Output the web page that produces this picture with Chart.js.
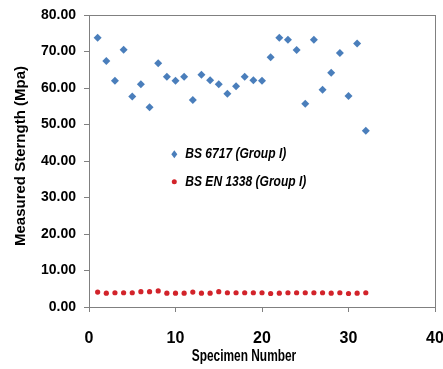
<!DOCTYPE html>
<html>
<head>
<meta charset="utf-8">
<script src="https://cdn.jsdelivr.net/npm/chart.js@4"></script>
<style>
  html, body { margin: 0; padding: 0; background: #fff; }
  #wrap { width: 443px; height: 369px; }
</style>
</head>
<body>
<div id="wrap"><canvas id="chart" width="443" height="369"></canvas></div>
<script>
// specimen numbers 1..32
var specimens = [1,2,3,4,5,6,7,8,9,10,11,12,13,14,15,16,17,18,19,20,21,22,23,24,25,26,27,28,29,30,31,32];
var bs6717 = [73.8,67.4,62.0,70.5,57.7,61.0,54.7,66.8,63.1,62.0,63.1,56.7,63.6,62.1,61.0,58.4,
              60.5,63.1,62.1,62.0,68.4,73.8,73.2,70.4,55.7,73.2,59.5,64.2,69.6,57.8,72.2,48.3];
var bsen1338 = [4.1,3.8,3.9,3.9,3.9,4.2,4.2,4.4,3.8,3.8,3.8,4.1,3.8,3.8,4.2,3.9,
                3.9,3.9,3.9,3.9,3.7,3.8,3.9,3.9,3.9,3.9,3.9,3.8,3.9,3.7,3.8,3.9];
var seriesNames = ['BS 6717 (Group I)', 'BS EN 1338 (Group I)'];
var xTitle = 'Specimen Number';
var yTitle = 'Measured Sterngth (Mpa)';

var blue = '#4a7ebb';
var red = '#d2232a';
var sans = '"Liberation Sans", Arial, sans-serif';

function pts(vals) {
    return vals.map(function (v, i) { return { x: specimens[i], y: v }; });
}

// condensed text: the original uses a narrow face, so squeeze horizontally
function narrowText(ctx, text, x, y, sx) {
    ctx.save();
    ctx.translate(x, y);
    ctx.scale(sx, 1);
    ctx.fillText(text, 0, 0);
    ctx.restore();
}

var extras = {
    id: 'extras',
    afterDraw: function (chart) {
        var ctx = chart.ctx;
        var a = chart.chartArea;
        ctx.save();
        // plot frame
        ctx.strokeStyle = '#808080';
        ctx.lineWidth = 1;
        ctx.strokeRect(a.left + 0.5, a.top + 0.5, a.right - a.left, a.bottom - a.top);

        // legend inside the plot
        var lx = a.left + (a.right - a.left) * 0.2465;
        var ly1 = a.top + (a.bottom - a.top) * 0.477;
        var ly2 = a.top + (a.bottom - a.top) * 0.571;
        ctx.fillStyle = blue;
        ctx.beginPath();
        ctx.moveTo(lx, ly1 - 4);
        ctx.lineTo(lx + 3, ly1);
        ctx.lineTo(lx, ly1 + 4);
        ctx.lineTo(lx - 3, ly1);
        ctx.closePath();
        ctx.fill();
        ctx.fillStyle = red;
        ctx.beginPath();
        ctx.arc(lx, ly2, 2.5, 0, Math.PI * 2);
        ctx.fill();
        ctx.fillStyle = '#000';
        ctx.font = 'italic bold 14.5px ' + sans;
        ctx.textBaseline = 'middle';
        ctx.textAlign = 'left';
        narrowText(ctx, seriesNames[0], lx + 11, ly1, 0.83);
        narrowText(ctx, seriesNames[1], lx + 11, ly2, 0.83);

        // axis titles
        ctx.font = 'bold 17px ' + sans;
        ctx.textAlign = 'center';
        narrowText(ctx, xTitle, 244, 356, 0.7);
        ctx.translate(21, 156);
        ctx.rotate(-Math.PI / 2);
        ctx.font = 'bold 15px ' + sans;
        ctx.fillText(yTitle, 0, 0);
        ctx.restore();
    }
};

new Chart(document.getElementById('chart').getContext('2d'), {
    type: 'scatter',
    data: {
        datasets: [{
            label: seriesNames[0],
            data: pts(bs6717),
            pointStyle: 'rectRot',
            pointRadius: 4,
            backgroundColor: blue,
            borderColor: blue,
            borderWidth: 0
        }, {
            label: seriesNames[1],
            data: pts(bsen1338),
            pointStyle: 'circle',
            pointRadius: 2.6,
            backgroundColor: red,
            borderColor: red,
            borderWidth: 0
        }]
    },
    options: {
        responsive: false,
        animation: false,
        layout: { padding: { top: 15, right: 8, bottom: 0, left: 0 } },
        plugins: {
            legend: { display: false },
            tooltip: { enabled: false }
        },
        scales: {
            x: {
                type: 'linear',
                min: 0,
                max: 40,
                ticks: {
                    stepSize: 10,
                    padding: 17,
                    color: '#000',
                    font: { family: sans, size: 16, weight: 'bold' }
                },
                grid: { drawOnChartArea: false, tickLength: 5, color: '#808080' },
                border: { color: '#808080' },
                afterFit: function (s) {
                    s.height = 62;
                    s.paddingLeft = 0;
                    s.paddingRight = 0;
                }
            },
            y: {
                min: 0,
                max: 80,
                ticks: {
                    stepSize: 10,
                    padding: 8,
                    color: '#000',
                    font: { family: sans, size: 14, weight: 'bold' },
                    callback: function (v) { return Number(v).toFixed(2); }
                },
                grid: { drawOnChartArea: false, tickLength: 5, color: '#808080' },
                border: { color: '#808080' },
                afterFit: function (s) {
                    s.width = 89;
                    s.paddingTop = 0;
                    s.paddingBottom = 0;
                }
            }
        }
    },
    plugins: [extras]
});
</script>
</body>
</html>
